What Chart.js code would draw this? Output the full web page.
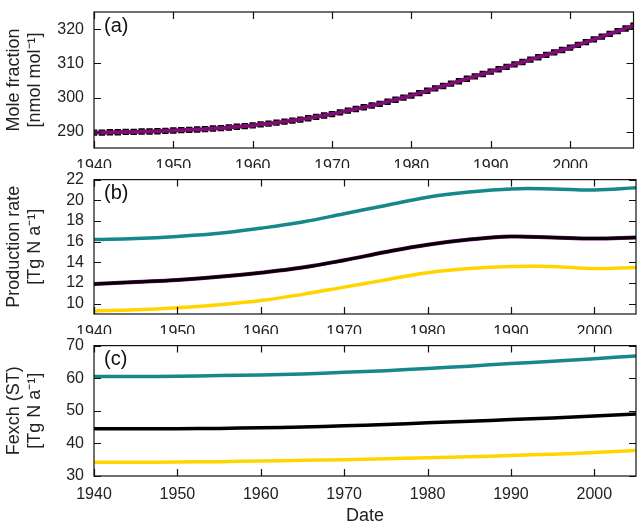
<!DOCTYPE html>
<html><head><meta charset="utf-8">
<script src="https://cdn.jsdelivr.net/npm/chart.js@4/dist/chart.umd.min.js"></script>
<style>
body{margin:0;background:#fff;width:638px;height:531px;overflow:hidden;position:relative}
.p{position:absolute;left:0;width:638px}
</style></head><body>
<div class="p" style="top:0;height:168px"><canvas id="ca"></canvas></div>
<div class="p" style="top:168px;height:166px"><canvas id="cb"></canvas></div>
<div class="p" style="top:334px;height:197px"><canvas id="cc"></canvas></div>
<script>
// panel (a): yearly mole fraction 1940-2008
var yearsA = [];
for (var y = 1940; y <= 2008; y++) yearsA.push(y);
var moleFraction = [
  289.8, 289.8, 289.9, 289.9, 290.0, 290.0, 290.1, 290.1, 290.2, 290.3,
  290.4, 290.5, 290.6, 290.7, 290.8, 291.0, 291.1, 291.3, 291.5, 291.7,
  291.9, 292.2, 292.4, 292.7, 293.0, 293.3, 293.6, 294.0, 294.4, 294.8,
  295.2, 295.7, 296.2, 296.7, 297.2, 297.7, 298.2, 298.8, 299.4, 300.0,
  300.6, 301.3, 302.0, 302.7, 303.4, 304.1, 304.8, 305.5, 306.2, 306.9,
  307.6, 308.3, 309.0, 309.7, 310.4, 311.1, 311.8, 312.5, 313.2, 313.9,
  314.6, 315.4, 316.2, 317.0, 317.8, 318.6, 319.4, 320.2, 321.0
];
// panels (b) and (c)
var yearsBC = [1940, 1945, 1950, 1955, 1960, 1965, 1970, 1975, 1980, 1985, 1990, 1995, 2000, 2005];
var prodHigh = [16.2, 16.3, 16.5, 16.8, 17.3, 17.9, 18.7, 19.5, 20.3, 20.8, 21.1, 21.1, 21.0, 21.2];
var prodMid  = [11.9, 12.1, 12.3, 12.6, 13.0, 13.5, 14.2, 15.0, 15.7, 16.2, 16.5, 16.4, 16.3, 16.4];
var prodLow  = [9.3, 9.4, 9.6, 9.9, 10.3, 10.9, 11.6, 12.3, 13.0, 13.4, 13.6, 13.6, 13.4, 13.5];
var fexHigh = [60.5, 60.5, 60.6, 60.8, 61.0, 61.3, 61.8, 62.3, 63.0, 63.7, 64.5, 65.2, 66.0, 66.8];
var fexMid  = [44.5, 44.5, 44.5, 44.6, 44.8, 45.0, 45.4, 45.8, 46.3, 46.8, 47.3, 47.8, 48.4, 49.0];
var fexLow  = [34.2, 34.2, 34.3, 34.4, 34.6, 34.8, 35.0, 35.3, 35.6, 35.9, 36.3, 36.7, 37.2, 37.8];
var xTicks = [1940, 1950, 1960, 1970, 1980, 1990, 2000];
var yTicksA = [290, 300, 310, 320];
var yTicksB = [10, 12, 14, 16, 18, 20, 22];
var yTicksC = [30, 40, 50, 60, 70];

var TEAL = '#16888a', YEL = '#ffd500', PUR = '#7d0f72';
var FONT = "'Liberation Sans', Arial, sans-serif";
Chart.defaults.font.family = FONT;
Chart.defaults.color = '#222';
Chart.defaults.animation = false;

function pts(xs, ys) { return xs.map(function (x, i) { return {x: x, y: ys[i]}; }); }
function setTicks(list) { return function (s) { s.ticks = list.map(function (v) { return {value: v}; }); }; }

var frame = {
  id: 'frame',
  afterDraw: function (ch, a, o) {
    var c = ch.ctx, ar = ch.chartArea;
    c.save();
    c.strokeStyle = '#111'; c.lineWidth = 1.2;
    c.strokeRect(ar.left, ar.top, ar.right - ar.left, ar.bottom - ar.top);
    ch.scales.x.ticks.forEach(function (t) {
      var px = Math.round(ch.scales.x.getPixelForValue(t.value)) + 0.5;
      c.beginPath(); c.moveTo(px, ar.bottom); c.lineTo(px, ar.bottom - 7);
      c.moveTo(px, ar.top); c.lineTo(px, ar.top + 7); c.stroke();
    });
    ch.scales.y.ticks.forEach(function (t) {
      var py = Math.round(ch.scales.y.getPixelForValue(t.value)) + 0.5;
      c.beginPath(); c.moveTo(ar.left, py); c.lineTo(ar.left + 7, py);
      c.moveTo(ar.right, py); c.lineTo(ar.right - 7, py); c.stroke();
    });
    c.fillStyle = '#111'; c.font = '20px ' + FONT; c.textBaseline = 'top';
    c.fillText(o.label, ar.left + 10, ar.top + 4);
    c.restore();
  }
};

function makeChart(id, datasets, label, xmax, ymin, ymax, yticks, ytitle, padTop, xTitle) {
  return new Chart(document.getElementById(id), {
    type: 'line',
    data: {datasets: datasets},
    options: {
      responsive: true, maintainAspectRatio: false,
      layout: {padding: {top: padTop, right: 2, left: 0, bottom: 0}},
      plugins: {legend: {display: false}, tooltip: {enabled: false}, frame: {label: label}},
      elements: {point: {radius: 0}},
      scales: {
        x: {
          type: 'linear', min: 1940, max: xmax,
          grid: {display: false}, border: {display: false},
          ticks: {font: {size: 16}, color: '#222', maxRotation: 0, padding: 1,
                  callback: function (v) { return String(v); }},
          afterBuildTicks: setTicks(xTicks),
          title: {display: !!xTitle, text: 'Date', font: {size: 18}, color: '#222', padding: {top: 12}},
          afterFit: function (s) { s.height = xTitle ? 55 : 20; }
        },
        y: {
          min: ymin, max: ymax,
          grid: {display: false}, border: {display: false},
          ticks: {font: {size: 16}, color: '#222', padding: 2,
                  callback: function (v) { return String(v); }},
          afterBuildTicks: setTicks(yticks),
          title: {display: true, text: ytitle, font: {size: 18, lineHeight: 1.15}, color: '#222', padding: {bottom: 4}},
          afterFit: function (s) { s.width = 94; }
        }
      }
    },
    plugins: [frame]
  });
}

makeChart('ca', [
  {data: pts(yearsA, moleFraction), borderColor: PUR, borderWidth: 4, tension: 0.3, order: 1},
  {data: pts(yearsA, moleFraction), showLine: false, pointRadius: 4.5, pointStyle: 'rect',
   pointBackgroundColor: '#000', pointBorderWidth: 0, order: 2}
], '(a)', 2008, 285.3, 325, yTicksA, ['Mole fraction', '[nmol mol\u207B\u00B9]'], 12, false);

makeChart('cb', [
  {data: pts(yearsBC, prodMid), borderColor: '#000', borderWidth: 3, tension: 0.4},
  {data: pts(yearsBC, prodMid), borderColor: PUR, borderWidth: 4, tension: 0.4},
  {data: pts(yearsBC, prodHigh), borderColor: TEAL, borderWidth: 3.5, tension: 0.4},
  {data: pts(yearsBC, prodLow), borderColor: YEL, borderWidth: 3.5, tension: 0.4}
], '(b)', 2005, 9, 22, yTicksB, ['Production rate', '[Tg N a\u207B\u00B9]'], 8, false);

makeChart('cc', [
  {data: pts(yearsBC, fexMid), borderColor: '#000', borderWidth: 3.5, tension: 0.4},
  {data: pts(yearsBC, fexHigh), borderColor: TEAL, borderWidth: 3.5, tension: 0.4},
  {data: pts(yearsBC, fexLow), borderColor: YEL, borderWidth: 3.5, tension: 0.4}
], '(c)', 2005, 30, 70, yTicksC, ['Fexch (ST)', '[Tg N a\u207B\u00B9]'], 6, true);
</script>
</body></html>
